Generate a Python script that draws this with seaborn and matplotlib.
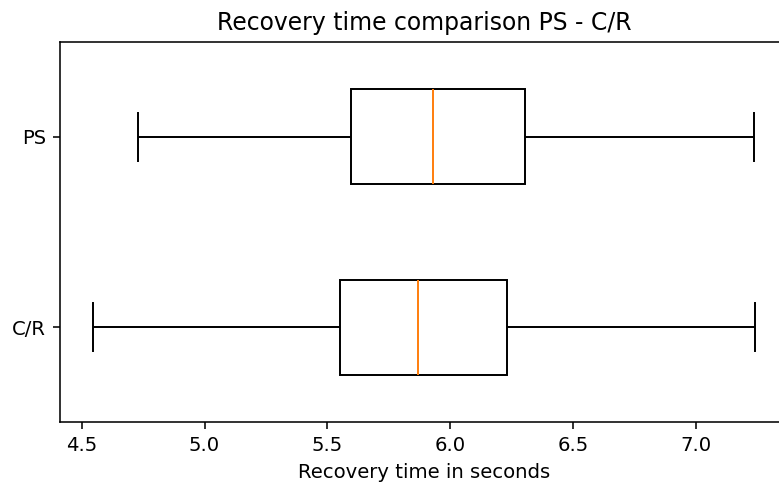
import numpy as np
import pandas as pd
import matplotlib
matplotlib.use("Agg")
import matplotlib.pyplot as plt
import seaborn as sns

# Five-number summaries (min, Q1, median, Q3, max)
categories = ["PS", "C/R"]
ps_values = [4.730, 5.597, 5.929, 6.306, 7.237]
cr_values = [4.545, 5.550, 5.871, 6.232, 7.241]

df = pd.DataFrame({
    "group": ["PS"] * len(ps_values) + ["C/R"] * len(cr_values),
    "time": ps_values + cr_values,
})

DPI = 141
fig = plt.figure(figsize=(779 / DPI, 487 / DPI), dpi=DPI)
ax = fig.add_axes([59.7 / 779, 1 - 422.3 / 487, (788 - 59.7) / 779, (422.3 - 41.7) / 487])

sns.boxplot(
    data=df, x="time", y="group", order=categories, ax=ax,
    width=0.5, whis=(0, 100), color="white", linecolor="black", linewidth=1.0,
    medianprops=dict(color="#ff7f0e", linewidth=1.0),
)

ax.set_title("Recovery time comparison PS - C/R")
ax.set_xlabel("Recovery time in seconds")
ax.set_ylabel("")

fig.savefig("out.png", dpi=DPI)
